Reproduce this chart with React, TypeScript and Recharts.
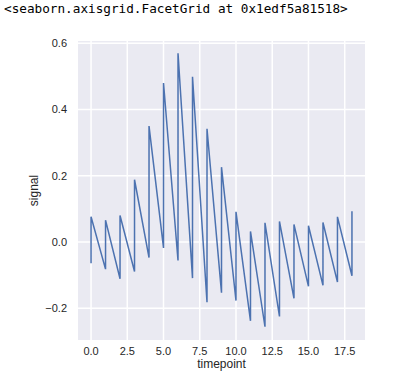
import { LineChart, Line, XAxis, YAxis, CartesianGrid, Label } from "recharts";

// each timepoint has two rows (low, high), drawn in this order without aggregation
const timepoints = [0, 1, 2, 3, 4, 5, 6, 7, 8, 9, 10, 11, 12, 13, 14, 15, 16, 17, 18];
const lowSignal = [
  -0.064, -0.082, -0.111, -0.089, -0.047, -0.018, -0.056, -0.109, -0.182, -0.153,
  -0.177, -0.238, -0.256, -0.225, -0.17, -0.134, -0.131, -0.121, -0.102,
];
const highSignal = [
  0.076, 0.066, 0.08, 0.188, 0.35, 0.48, 0.57, 0.499, 0.342, 0.226,
  0.091, 0.032, 0.058, 0.062, 0.053, 0.049, 0.059, 0.076, 0.093,
];
const xTicks = [0, 2.5, 5, 7.5, 10, 12.5, 15, 17.5];
const yTicks = [-0.2, 0, 0.2, 0.4, 0.6];

const data = timepoints.flatMap((t, i) => [
  { timepoint: t, signal: lowSignal[i] },
  { timepoint: t, signal: highSignal[i] },
]);

const fmt = (v: number) => v.toFixed(1).replace("-", "\u2212");

const font = "'Liberation Sans', Arial, sans-serif";
const tickStyle = { fill: "#262626", fontSize: 11, fontFamily: font };

export default function App() {
  return (
    <div
      style={{
        position: "fixed",
        left: 0,
        top: 0,
        width: 394,
        height: 384,
        background: "#fff",
      }}
    >
      <div
        style={{
          position: "absolute",
          left: 4,
          top: 0,
          fontFamily: "'DejaVu Sans Mono', monospace",
          fontSize: 12.7,
          lineHeight: "17px",
          color: "#000",
          whiteSpace: "pre",
        }}
      >
        {"<seaborn.axisgrid.FacetGrid at 0x1edf5a81518>"}
      </div>
      <div style={{ position: "absolute", left: 0, top: 0 }}>
        <LineChart
          width={394}
          height={384}
          data={data}
          margin={{ top: 41, right: 29, bottom: 0, left: 0 }}
        >
          <CartesianGrid
            fill="#EAEAF2"
            stroke="#ffffff"
            strokeWidth={1.5}
            horizontalValues={yTicks}
            verticalValues={xTicks}
          />
          <XAxis
            dataKey="timepoint"
            type="number"
            domain={[-0.9, 18.9]}
            ticks={xTicks}
            tickFormatter={fmt}
            axisLine={false}
            tickLine={false}
            tickSize={0}
            tickMargin={7}
            height={44}
            tick={tickStyle}
            allowDataOverflow
          >
            <Label
              content={({ viewBox }: any) => (
                <text
                  x={viewBox.x + viewBox.width / 2}
                  y={368}
                  textAnchor="middle"
                  fill="#262626"
                  fontSize={12}
                  fontFamily={font}
                >
                  timepoint
                </text>
              )}
            />
          </XAxis>
          <YAxis
            type="number"
            domain={[-0.296, 0.607]}
            ticks={yTicks}
            tickFormatter={fmt}
            axisLine={false}
            tickLine={false}
            tickSize={0}
            tickMargin={11}
            width={78}
            tick={tickStyle}
            allowDataOverflow
          >
            <Label
              content={({ viewBox }: any) => {
                const cy = viewBox.y + viewBox.height / 2;
                return (
                  <text
                    x={38}
                    y={cy}
                    transform={`rotate(-90 38 ${cy})`}
                    textAnchor="middle"
                    fill="#262626"
                    fontSize={12}
                    fontFamily={font}
                  >
                    signal
                  </text>
                );
              }}
            />
          </YAxis>
          <Line
            type="linear"
            dataKey="signal"
            stroke="#4C72B0"
            strokeWidth={1.5}
            dot={false}
            isAnimationActive={false}
          />
        </LineChart>
      </div>
    </div>
  );
}
